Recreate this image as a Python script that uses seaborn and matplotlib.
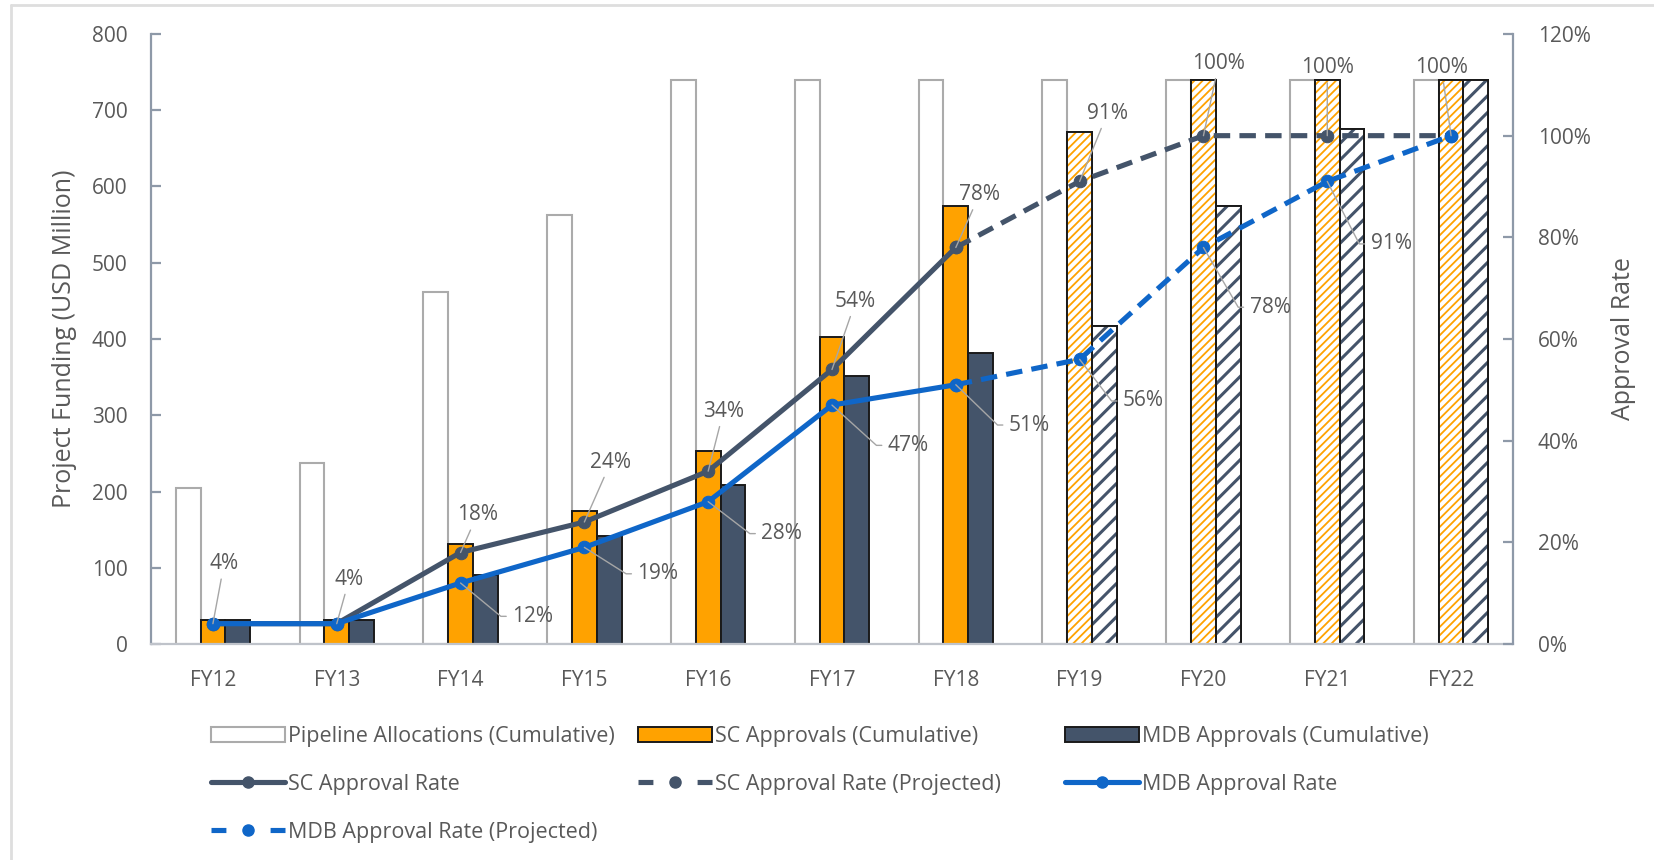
import numpy as np
import pandas as pd
import matplotlib
matplotlib.use("Agg")
import matplotlib.pyplot as plt
import seaborn as sns
from matplotlib.lines import Line2D
from matplotlib.patches import Patch, Rectangle
from matplotlib.ticker import PercentFormatter, MultipleLocator

# ---------------- data ----------------
years = ["FY12", "FY13", "FY14", "FY15", "FY16", "FY17", "FY18", "FY19", "FY20", "FY21", "FY22"]
pipeline = [205, 237, 462, 563, 740, 740, 740, 740, 740, 740, 740]
sc_approvals = [31, 31, 131, 175, 253, 403, 574, 672, 740, 740, 740]
mdb_approvals = [31, 31, 90, 141, 209, 352, 382, 417, 574, 676, 740]
sc_rate = [4, 4, 18, 24, 34, 54, 78, 91, 100, 100, 100]
mdb_rate = [4, 4, 12, 19, 28, 47, 51, 56, 78, 91, 100]
last_actual = "FY18"          # projections start after this year
bar_series = ["Pipeline Allocations (Cumulative)", "SC Approvals (Cumulative)",
              "MDB Approvals (Cumulative)"]
line_series = ["SC Approval Rate", "SC Approval Rate (Projected)",
               "MDB Approval Rate", "MDB Approval Rate (Projected)"]

# label offsets (points) for the percentage call-outs
sc_label_off = [(8, 43), (9, 32), (12, 27), (19, 43), (11, 43), (17, 49), (17, 38),
                (20, 49), (11, 52), (0, 49), (-7, 49)]
mdb_label_off = {2: (52, -24), 3: (53, -19), 4: (53, -23), 5: (55, -29), 6: (53, -29),
                 7: (46, -30), 8: (48, -43), 9: (46, -45)}

# ---------------- style ----------------
sns.set_style("white")
plt.rcParams["font.family"] = ["Open Sans", "DejaVu Sans"]
TXT = "#595959"
ORANGE = "#FFA200"
SLATE = "#44546A"
BLUE = "#0F66C8"
AXC = "#8E99A8"

fig = plt.figure(figsize=(16.54, 8.6), dpi=100)
W, H = 1654, 860
ax = fig.add_axes([151 / W, 1 - 644 / H, (1513 - 151) / W, (644 - 34) / H])

df = pd.DataFrame({
    "year": years * 3,
    "series": [bar_series[0]] * len(years) + [bar_series[1]] * len(years) + [bar_series[2]] * len(years),
    "value": pipeline + sc_approvals + mdb_approvals,
})
sns.barplot(data=df, x="year", y="value", hue="series", hue_order=bar_series,
            order=years, palette=["white", ORANGE, SLATE], saturation=1,
            width=0.6, gap=0, ax=ax, legend=False, err_kws={"linewidth": 0})

proj_start = years.index(last_actual) + 1
for ci, cont in enumerate(ax.containers):
    for j, p in enumerate(cont.patches):
        if ci == 0:
            p.set_edgecolor("#ABABAB")
            p.set_linewidth(1.5)
            continue
        p.set_edgecolor("#1A1A1A")
        p.set_linewidth(1.4)
        if j >= proj_start:
            p.set_facecolor("white")
            hcol = ORANGE if ci == 1 else SLATE
            with plt.rc_context({"hatch.linewidth": 1.3 if ci == 1 else 2.2,
                                 "hatch.color": hcol}):
                hp = Rectangle(p.get_xy(), p.get_width(), p.get_height(),
                               facecolor="white", edgecolor=hcol, linewidth=0,
                               hatch="////" if ci == 1 else "//", zorder=p.get_zorder() + 0.1)
                ax.add_patch(hp)
            op = Rectangle(p.get_xy(), p.get_width(), p.get_height(), fill=False,
                           edgecolor="#1A1A1A", linewidth=1.4, zorder=p.get_zorder() + 0.2)
            ax.add_patch(op)

ax.set_ylim(0, 800)
ax.set_xlim(-0.5, len(years) - 0.5)
ax.yaxis.set_major_locator(MultipleLocator(100))
ax.set_xlabel("")
ax.set_ylabel("Project Funding (USD Million)", fontsize=18, color=TXT)
ax.yaxis.set_label_coords(-0.054, 0.5)

for s in ["top", "right"]:
    ax.spines[s].set_visible(False)
ax.spines["left"].set_color(AXC)
ax.spines["left"].set_linewidth(1.6)
ax.spines["bottom"].set_color("#BFC3CA")
ax.spines["bottom"].set_linewidth(1.6)
ax.tick_params(axis="y", direction="in", length=7, width=1.6, color=AXC,
               labelsize=15, labelcolor=TXT, pad=17)
ax.tick_params(axis="x", length=0, labelsize=15, labelcolor=TXT, pad=19)

# ---------------- rate lines ----------------
ax2 = ax.twinx()
idx = np.arange(len(years))
sc_frac = np.array(sc_rate) / 100
mdb_frac = np.array(mdb_rate) / 100
a = proj_start
lw, ms = 3.7, 9
dsh = (3.2, 1.8)
sns.lineplot(x=idx[:a], y=sc_frac[:a], ax=ax2, color=SLATE, linewidth=lw,
             marker="o", markersize=ms, markeredgecolor=SLATE, zorder=5)
sns.lineplot(x=idx[a - 1:], y=sc_frac[a - 1:], ax=ax2, color=SLATE, linewidth=lw,
             marker="o", markersize=ms, markeredgecolor=SLATE, dashes=dsh, zorder=5)
sns.lineplot(x=idx[:a], y=mdb_frac[:a], ax=ax2, color=BLUE, linewidth=lw,
             marker="o", markersize=ms, markeredgecolor=BLUE, zorder=6)
sns.lineplot(x=idx[a - 1:], y=mdb_frac[a - 1:], ax=ax2, color=BLUE, linewidth=lw,
             marker="o", markersize=ms, markeredgecolor=BLUE, dashes=dsh, zorder=6)

ax2.set_ylim(0, 1.2)
ax2.set_xlim(-0.5, len(years) - 0.5)
ax2.yaxis.set_major_locator(MultipleLocator(0.2))
ax2.yaxis.set_major_formatter(PercentFormatter(1.0, decimals=0))
for s in ["top", "left", "bottom"]:
    ax2.spines[s].set_visible(False)
ax2.spines["right"].set_color(AXC)
ax2.spines["right"].set_linewidth(1.6)
ax2.tick_params(axis="y", direction="in", length=7, width=1.6, color=AXC,
                labelsize=15, labelcolor=TXT, pad=18)
ax2.set_ylabel("Approval Rate", fontsize=18, color=TXT, rotation=90)
ax2.yaxis.set_label_coords(1.072, 0.5)

# ---------------- call-out labels ----------------
LEAD = "#A6A6A6"
for i, (v, off) in enumerate(zip(sc_frac, sc_label_off)):
    ax2.annotate(f"{sc_rate[i]}%", xy=(idx[i], v), xytext=off, textcoords="offset points",
                 ha="center", va="center", fontsize=15, color=TXT, zorder=8,
                 arrowprops=dict(arrowstyle="-", color=LEAD, lw=1.0,
                                 shrinkA=1, shrinkB=0))
for i, off in mdb_label_off.items():
    ang = np.degrees(np.arctan2(off[1], off[0] - 23))
    ax2.annotate(f"{mdb_rate[i]}%", xy=(idx[i], mdb_frac[i]), xytext=off,
                 textcoords="offset points", ha="center", va="center", fontsize=15,
                 color=TXT, zorder=8,
                 arrowprops=dict(arrowstyle="-", color=LEAD, lw=1.0, shrinkA=2, shrinkB=0,
                                 connectionstyle=f"angle,angleA=0,angleB={ang:.1f},rad=0"))

# ---------------- legend ----------------
bar_handles = [
    Patch(facecolor="white", edgecolor="#ABABAB", linewidth=1.5),
    Patch(facecolor=ORANGE, edgecolor="#1A1A1A", linewidth=1.4),
    Patch(facecolor=SLATE, edgecolor="#1A1A1A", linewidth=1.4),
]
leg_dash = (2.9, 8.6)
line_handles = [
    Line2D([0], [0], color=SLATE, lw=lw, marker="o", markersize=ms - 1),
    Line2D([0], [0], color=SLATE, lw=lw, marker="o", markersize=ms - 1, dashes=leg_dash),
    Line2D([0], [0], color=BLUE, lw=lw, marker="o", markersize=ms - 1),
    Line2D([0], [0], color=BLUE, lw=lw, marker="o", markersize=ms - 1, dashes=leg_dash),
]
cols = [
    ([bar_handles[0], line_handles[0], line_handles[3]],
     [bar_series[0], line_series[0], line_series[3]], 211),
    ([bar_handles[1], line_handles[1]], [bar_series[1], line_series[1]], 638),
    ([bar_handles[2], line_handles[2]], [bar_series[2], line_series[2]], 1065),
]
LFS = 15.5
for hs, ls, x0 in cols:
    leg = fig.legend(hs, ls, loc="upper left", bbox_to_anchor=(x0 / W, 1 - 726 / H),
                     frameon=False, fontsize=LFS, handlelength=74 / (LFS * 100 / 72),
                     handleheight=0.75, handletextpad=0.15, labelspacing=1.25,
                     borderpad=0, borderaxespad=0)
    for t in leg.get_texts():
        t.set_color(TXT)

# figure border (light grey, left and top)
fig.add_artist(Line2D([11 / W, 11 / W], [0, 1 - 5 / H], transform=fig.transFigure,
                      color="#DEDEDE", lw=2))
fig.add_artist(Line2D([11 / W, 1], [1 - 5 / H, 1 - 5 / H], transform=fig.transFigure,
                      color="#DEDEDE", lw=2))

fig.savefig("out.png", dpi=100)
